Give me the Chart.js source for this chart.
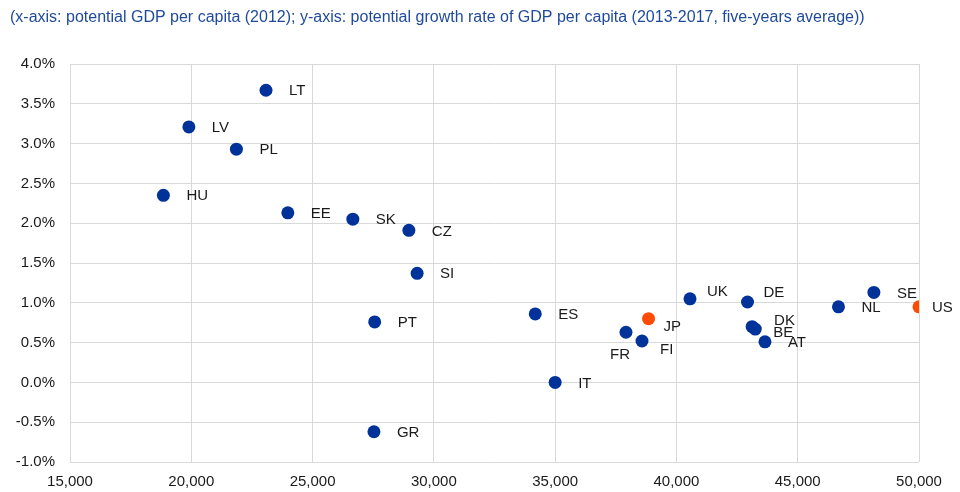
<!DOCTYPE html>
<html>
<head>
<meta charset="utf-8">
<script src="https://cdn.jsdelivr.net/npm/chart.js@4.4.1/dist/chart.umd.min.js"></script>
<style>
  html, body { margin: 0; padding: 0; background: #fff; }
  #wrap { position: relative; width: 960px; height: 492px; }
</style>
</head>
<body>
<div id="wrap"><canvas id="chart" width="960" height="492"></canvas></div>
<script>
// ── Datos ────────────────────────────────────────────────────────
var titleText = '(x-axis: potential GDP per capita (2012); y-axis: potential growth rate of GDP per capita (2013-2017, five-years average))';

// Países europeos (puntos azules)
var euCountries = ['LT', 'LV', 'PL', 'HU', 'EE', 'SK', 'CZ', 'SI', 'PT', 'GR', 'ES', 'IT',
                   'FR', 'FI', 'UK', 'DE', 'DK', 'BE', 'AT', 'NL', 'SE'];
var euGdp       = [23080, 19900, 21860, 18850, 23980, 26660, 28970, 29310, 27560, 27530, 34180, 35000,
                   37920, 38580, 40560, 42930, 43120, 43250, 43650, 46680, 48140];
var euGrowth    = [3.67, 3.21, 2.93, 2.35, 2.13, 2.05, 1.91, 1.37, 0.76, -0.62, 0.86, 0.00,
                   0.63, 0.52, 1.05, 1.01, 0.70, 0.67, 0.51, 0.95, 1.13];

// Otras economías (puntos naranjas)
var otherCountries = ['JP', 'US'];
var otherGdp       = [38850, 50000];
var otherGrowth    = [0.80, 0.95];

// Ejes
var xTicks = [15000, 20000, 25000, 30000, 35000, 40000, 45000, 50000];
var yTicks = [-1.0, -0.5, 0.0, 0.5, 1.0, 1.5, 2.0, 2.5, 3.0, 3.5, 4.0];

// ── Ajustes de las etiquetas (desplazamiento respecto al punto) ──
var labelOffsets = {
    FR: [-16, 23], FI: [18, 9], JP: [15, 8], UK: [17, -7], DE: [16, -9],
    DK: [22, -6], BE: [18, 4], US: [13, 1]
};

var FONT = '"Liberation Sans", Arial, sans-serif';

function toPoints(xs, ys) {
    return xs.map(function(x, i) { return { x: x, y: ys[i] }; });
}

// Plugin: título arriba a la izquierda
var titlePlugin = {
    id: 'topTitle',
    afterDraw: function(chart) {
        var ctx = chart.ctx;
        ctx.save();
        ctx.font = '16px ' + FONT;
        ctx.fillStyle = '#1f4a9c';
        ctx.textBaseline = 'middle';
        ctx.textAlign = 'left';
        ctx.fillText(titleText, 10, 18);
        ctx.restore();
    }
};

// Plugin: etiquetas de país junto a cada punto
var labelPlugin = {
    id: 'pointLabels',
    afterDatasetsDraw: function(chart) {
        var ctx = chart.ctx;
        ctx.save();
        ctx.font = '15px ' + FONT;
        ctx.fillStyle = '#1a1a1a';
        ctx.textBaseline = 'middle';
        ctx.textAlign = 'left';
        chart.data.datasets.forEach(function(ds, di) {
            var meta = chart.getDatasetMeta(di);
            meta.data.forEach(function(el, i) {
                var name = ds.names[i];
                var off = labelOffsets[name] || [23, 1];
                ctx.fillText(name, el.x + off[0], el.y + off[1]);
            });
        });
        ctx.restore();
    }
};

var ctx = document.getElementById('chart').getContext('2d');
new Chart(ctx, {
    type: 'scatter',
    data: {
        datasets: [{
            names          : euCountries,
            data           : toPoints(euGdp, euGrowth),
            backgroundColor: '#003299',
            borderWidth    : 0,
            pointRadius    : 6.5,
            pointHoverRadius: 6.5
        }, {
            names          : otherCountries,
            data           : toPoints(otherGdp, otherGrowth),
            backgroundColor: '#ff4b00',
            borderWidth    : 0,
            pointRadius    : 6.5,
            pointHoverRadius: 6.5
        }]
    },
    options: {
        responsive : false,
        animation  : false,
        layout     : { padding: { top: 64, right: 41, left: 0, bottom: 0 } },
        plugins    : { legend: { display: false }, tooltip: { enabled: false } },
        scales: {
            x: {
                type: 'linear',
                min : xTicks[0],
                max : xTicks[xTicks.length - 1],
                afterBuildTicks: function(axis) { axis.ticks = xTicks.map(function(v) { return { value: v }; }); },
                afterFit: function(axis) { axis.height = 30; },
                border: { display: false },
                grid  : { color: '#d9d9d9', lineWidth: 1, drawTicks: false },
                ticks : {
                    padding: 11,
                    color: '#1a1a1a',
                    font: { family: FONT, size: 15 },
                    callback: function(v) { return v.toLocaleString('en-US'); }
                }
            },
            y: {
                type: 'linear',
                min : yTicks[0],
                max : yTicks[yTicks.length - 1],
                afterBuildTicks: function(axis) { axis.ticks = yTicks.map(function(v) { return { value: v }; }); },
                afterFit: function(axis) { axis.width = 70; },
                border: { display: false },
                grid  : { color: '#d9d9d9', lineWidth: 1, drawTicks: false },
                ticks : {
                    padding: 15,
                    color: '#1a1a1a',
                    font: { family: FONT, size: 15 },
                    callback: function(v) { return v.toFixed(1) + '%'; }
                }
            }
        }
    },
    plugins: [titlePlugin, labelPlugin]
});
</script>
</body>
</html>
